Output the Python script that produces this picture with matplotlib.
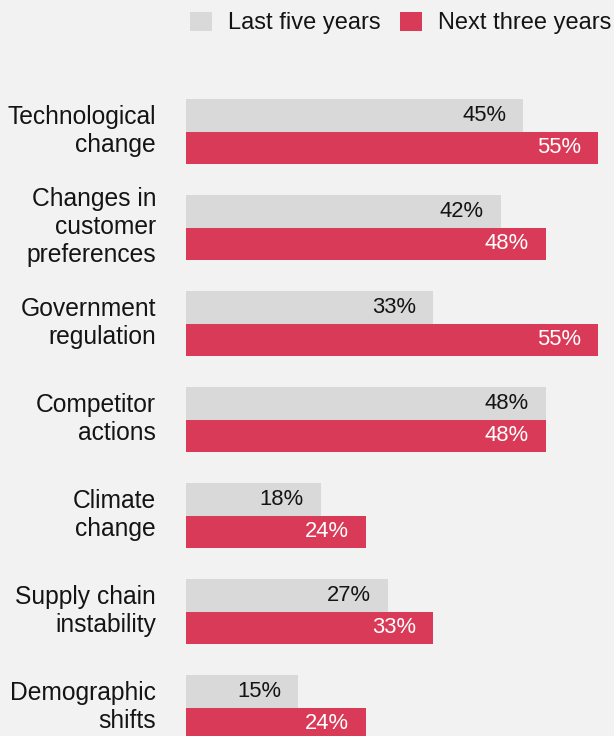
import matplotlib.pyplot as plt
from matplotlib.patches import Patch

plt.rcParams['font.family'] = ['Liberation Sans', 'DejaVu Sans']

categories = [
    "Technological\nchange",
    "Changes in\ncustomer\npreferences",
    "Government\nregulation",
    "Competitor\nactions",
    "Climate\nchange",
    "Supply chain\ninstability",
    "Demographic\nshifts",
]
last_five = [45, 42, 33, 48, 18, 27, 15]
next_three = [55, 48, 55, 48, 24, 33, 24]
series_names = ["Last five years", "Next three years"]

BG = "#f2f2f2"
GRAY = "#d9d9d9"
RED = "#d93a57"
INK = "#141414"

W, H = 614, 736
fig = plt.figure(figsize=(W / 100, H / 100), dpi=100, facecolor=BG)
# axes spans the whole height; x runs from bar start to the longest bar
ax = fig.add_axes([186 / W, 0, (598 - 186) / W, 1])
ax.set_facecolor(BG)

step = 96.0
top = -131.5 / step
bottom = (H - 131.5) / step
bar_h = 32.5 / step

ys = list(range(len(categories)))
gray_bars = ax.barh([y - bar_h / 2 for y in ys], last_five, height=bar_h,
                    color=GRAY, edgecolor='none')
red_bars = ax.barh([y + bar_h / 2 for y in ys], next_three, height=bar_h,
                   color=RED, edgecolor='none')

ax.set_xlim(0, 55)
ax.set_ylim(bottom, top)

for bars, vals, col in [(gray_bars, last_five, INK), (red_bars, next_three, "white")]:
    for rect, v in zip(bars, vals):
        yc = rect.get_y() + rect.get_height() / 2
        ax.annotate(f"{v}%", xy=(v, yc), xytext=(-17, 0), textcoords='offset pixels',
                    ha='right', va='center', fontsize=15.8, color=col)

# category labels, nudged up a touch so the block sits centred on the pair
ax.set_yticks([y - 0.05 for y in ys])
ax.set_yticklabels(categories, fontsize=17.7, color=INK, linespacing=1.2)
ax.tick_params(axis='y', length=0, pad=21.6)
ax.set_xticks([])
for s in ax.spines.values():
    s.set_visible(False)

handles = [Patch(facecolor=GRAY, edgecolor='none'), Patch(facecolor=RED, edgecolor='none')]
fig.legend(handles, series_names, loc='center right', bbox_to_anchor=(611 / W, 1 - 23 / H),
           ncol=2, frameon=False, fontsize=17, handlelength=0.9, handleheight=0.9,
           handletextpad=0.68, columnspacing=0.85, borderpad=0, borderaxespad=0,
           labelcolor=INK)

fig.savefig("out.png", dpi=100, facecolor=BG)
